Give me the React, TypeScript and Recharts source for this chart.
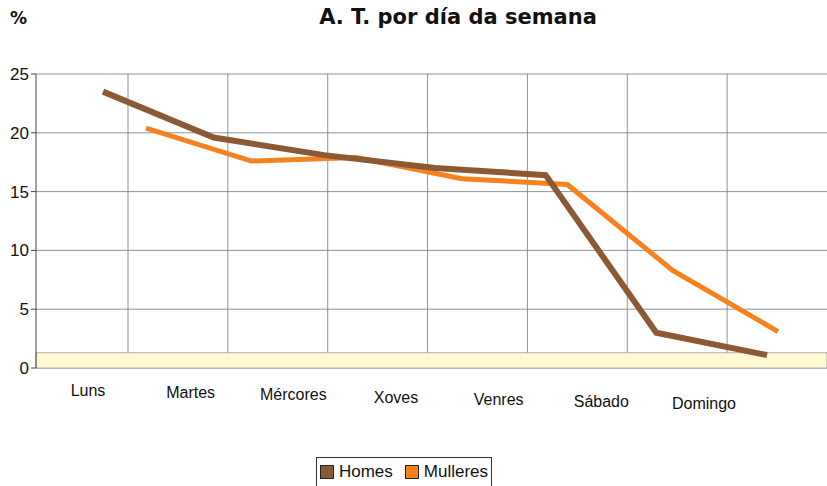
import React from "react";
import { LineChart, Line, XAxis, YAxis, CartesianGrid, ReferenceArea } from "recharts";

const days = ["Luns", "Martes", "Mércores", "Xoves", "Venres", "Sábado", "Domingo"];
const homes = [23.5, 19.6, 18.1, 17.0, 16.4, 3.0, 1.1];
const mulleres = [20.4, 17.6, 17.9, 16.1, 15.6, 8.3, 3.1];
const yTicks = [0, 5, 10, 15, 20, 25];

const data = days.map((d, i) => ({ day: d, Homes: homes[i], Mulleres: mulleres[i] }));

const HOMES = "#8B5A34";
const MULLERES = "#F5821F";
const FONT = "'Liberation Sans', Arial, sans-serif";

const XTick = (props: any) => {
  const { x, y, payload, index } = props;
  return (
    <text x={x} y={y} dy={20 + index * 2.2} textAnchor="middle" fill="#111" fontSize={16} fontFamily={FONT}>
      {payload.value}
    </text>
  );
};

export default function App() {
  return (
    <div style={{ position: "absolute", left: 0, top: 0, width: 827, height: 486, background: "#fff", fontFamily: FONT }}>
      <div style={{ position: "absolute", left: 10, top: 8, fontSize: 17, fontWeight: "bold", fontFamily: "'DejaVu Sans', Verdana, sans-serif", color: "#111" }}>%</div>
      <div style={{ position: "absolute", left: 0, width: 916, top: 5, textAlign: "center", fontSize: 21, fontWeight: "bold", fontFamily: "'DejaVu Sans', Verdana, sans-serif", color: "#111" }}>
        A. T. por día da semana
      </div>
      <LineChart width={827} height={486} data={data} margin={{ top: 74, right: 0, left: 0, bottom: 88 }}>
        <XAxis
          xAxisId="lab"
          dataKey="day"
          tick={<XTick />}
          tickLine={false}
          axisLine={false}
          height={30}
          interval={0}
          padding={{ left: 52, right: 123 }}
        />
        <XAxis xAxisId="full" dataKey="day" hide height={0} />
        <XAxis xAxisId="h" dataKey="day" hide height={0} padding={{ left: 67, right: 60 }} />
        <XAxis xAxisId="m" dataKey="day" hide height={0} padding={{ left: 110, right: 49 }} />
        <YAxis
          domain={[0, 25]}
          ticks={yTicks}
          width={36}
          tick={{ fill: "#111", fontSize: 17, fontFamily: FONT }}
          tickLine={{ stroke: "#444" }}
          tickSize={5}
          axisLine={{ stroke: "#444" }}
          interval={0}
        />
        <ReferenceArea xAxisId="full" y1={0} y2={1.3} fill="#FFF9D2" fillOpacity={1} stroke="#999" strokeWidth={0.8} />
        <CartesianGrid
          xAxisId="full"
          stroke="#777"
          strokeWidth={0.8}
          verticalCoordinatesGenerator={({ offset }: any) =>
            days.map((_, i) => offset.left + 92 + (i * (offset.width - 92)) / days.length)
          }
        />
        <Line xAxisId="m" type="linear" dataKey="Mulleres" stroke={MULLERES} strokeWidth={5} dot={false} isAnimationActive={false} />
        <Line xAxisId="h" type="linear" dataKey="Homes" stroke={HOMES} strokeWidth={6} dot={false} isAnimationActive={false} />
      </LineChart>
      <div
        style={{
          position: "absolute",
          left: 316,
          top: 457,
          width: 176,
          height: 29,
          border: "1px solid #333",
          borderBottom: "none",
          display: "flex",
          alignItems: "center",
          justifyContent: "center",
          gap: 12,
          fontSize: 17,
          fontFamily: FONT,
          color: "#111",
          boxSizing: "border-box",
        }}
      >
        <span style={{ display: "flex", alignItems: "center" }}>
          <span style={{ width: 14, height: 14, background: HOMES, border: "1px solid #222", marginRight: 5, boxSizing: "border-box" }} />
          Homes
        </span>
        <span style={{ display: "flex", alignItems: "center" }}>
          <span style={{ width: 14, height: 14, background: MULLERES, border: "1px solid #222", marginRight: 5, boxSizing: "border-box" }} />
          Mulleres
        </span>
      </div>
    </div>
  );
}
